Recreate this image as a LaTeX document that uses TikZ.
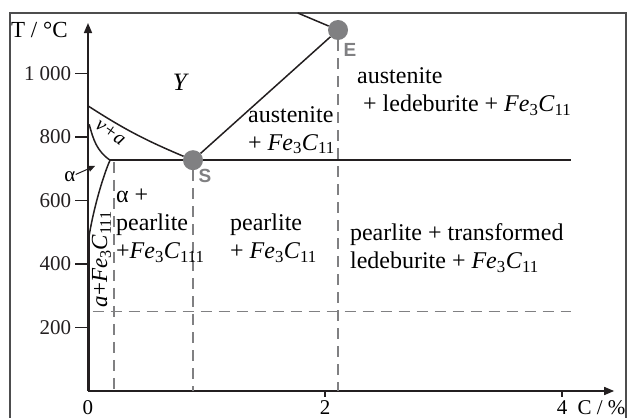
\documentclass[tikz,border=0pt]{standalone}
\usepackage{fontspec}
\setmainfont{Liberation Serif}
\setsansfont{Liberation Sans}
\usetikzlibrary{arrows.meta}
\definecolor{phase}{RGB}{35,31,32}
\definecolor{guide}{RGB}{128,128,130}
\newcommand\fec[1]{\textit{Fe}\textsubscript{3}\textit{C}\textsubscript{#1}}

\begin{document}
\begin{tikzpicture}[
    x=118.5pt, y=0.3175pt,
    axis/.style={-{Triangle[length=10pt,width=8pt]}, line width=1.6pt, color=phase},
    curve/.style={line width=1.5pt, color=phase},
    guideline/.style={dash pattern=on 11pt off 7pt, line width=1.4pt, color=guide},
    dot/.style={circle, fill=guide, minimum size=20pt, inner sep=0pt},
    dotlabel/.style={font=\sffamily\bfseries\fontsize{19}{19}\selectfont, text=guide},
    region/.style={align=left, inner sep=0pt, anchor=west, font=\fontsize{24}{28}\selectfont},
    ticklab/.style={inner sep=0pt, font=\fontsize{21}{21}\selectfont}
  ]
  \useasboundingbox (-0.7426,-81.9) rectangle (4.5654,1231.5);
  \draw[line width=1.2pt, color=guide!60!black] (-0.658,-90) -- (-0.658,1190.6) -- (4.54,1190.6) -- (4.54,-90);

  \coordinate (O) at (0,0);
  \coordinate (ytop) at (0,1159);
  \coordinate (xend) at (4.44,0);
  \draw[axis] (O) -- (ytop);
  \draw[axis] (O) -- (xend);
  \foreach \t/\lab in {200/200, 400/400, 600/600, 800/800, 1000/1\hspace{5pt}000}
    \draw[curve] (0,\t) -- ++(-0.11,0) node[ticklab, anchor=east, xshift=-3pt] {\lab};
  \foreach \c in {2,4}
    \draw[curve] (\c,0) -- (\c,-19);
  \node[ticklab] (x0) at (0,-51) {0};
  \node[ticklab] (x2) at (2,-51) {2};
  \node[ticklab] (x4) at (4,-51) {4};
  \node[ticklab, anchor=west] (xname) at (4.13,-51) {C / \%};
  \node[ticklab, anchor=west, font=\fontsize{23}{23}\selectfont] (yname) at (-0.65,1137) {T / °C};

  \node[dot] (S) at (0.886,727) {};
  \node[dot] (E) at (2.11,1137) {};
  \node[dotlabel] (Slab) at (0.987,677) {S};
  \node[dotlabel] (Elab) at (2.21,1074) {E};

  \coordinate (eutL) at (0.186,727);
  \coordinate (eutR) at (4.08,727);
  \coordinate (liq) at (1.77,1190.6);
  \coordinate (g0) at (0,898);
  \coordinate (a0) at (0.01,840);
  \coordinate (sol) at (0.01,490);
  \coordinate (solend) at (0.01,0);

  \draw[guideline] (0.22,722) -- (0.22,0);
  \draw[guideline] (S) -- (S |- O);
  \draw[guideline] (E) -- (E |- O);
  \draw[guideline] (0.04,250) -- (4.08,250);

  \draw[curve] (eutL) -- (S);
  \draw[curve] (S) -- (eutR);
  \draw[curve] (S) -- (E);
  \draw[curve] (E) -- (liq);
  \draw[curve] (g0) to[bend right=5] (S);
  \draw[curve] (a0) to[out=-75, in=145] (eutL);
  \draw[curve] (eutL) .. controls (0.13,680) and (0.05,580) .. (sol) -- (solend);

  \node[ticklab] (alab) at (-0.152,674) {α};
  \coordinate (atip) at (0.06,709);
  \draw[-{Triangle[length=7pt,width=6pt]}, line width=1pt, color=phase] (alab) -- (atip);

  \node[ticklab, rotate=-35, font=\fontsize{20}{20}\selectfont] (ga) at (0.19,815) {\textit{ν+a}};
  \node[region, anchor=center, font=\fontsize{25}{25}\selectfont] (gam) at (0.785,973) {\textit{Y}};
  \node[ticklab, rotate=90, font=\fontsize{23}{23}\selectfont] (afe) at (0.114,415) {\textit{a}+\fec{111}};

  \node[region] (r1) at (2.27,942) {austenite\\\hspace{6pt}+ ledeburite + \fec{11}};
  \node[region] (r2) at (1.35,822) {austenite\\+ \fec{11}};
  \node[region] (r3) at (0.236,520) {α +\\pearlite\\+\fec{111}};
  \node[region] (r4) at (1.198,482) {pearlite\\+ \fec{11}};
  \node[region] (r5) at (2.21,450) {pearlite + transformed\\ledeburite + \fec{11}};
\end{tikzpicture}
\end{document}
